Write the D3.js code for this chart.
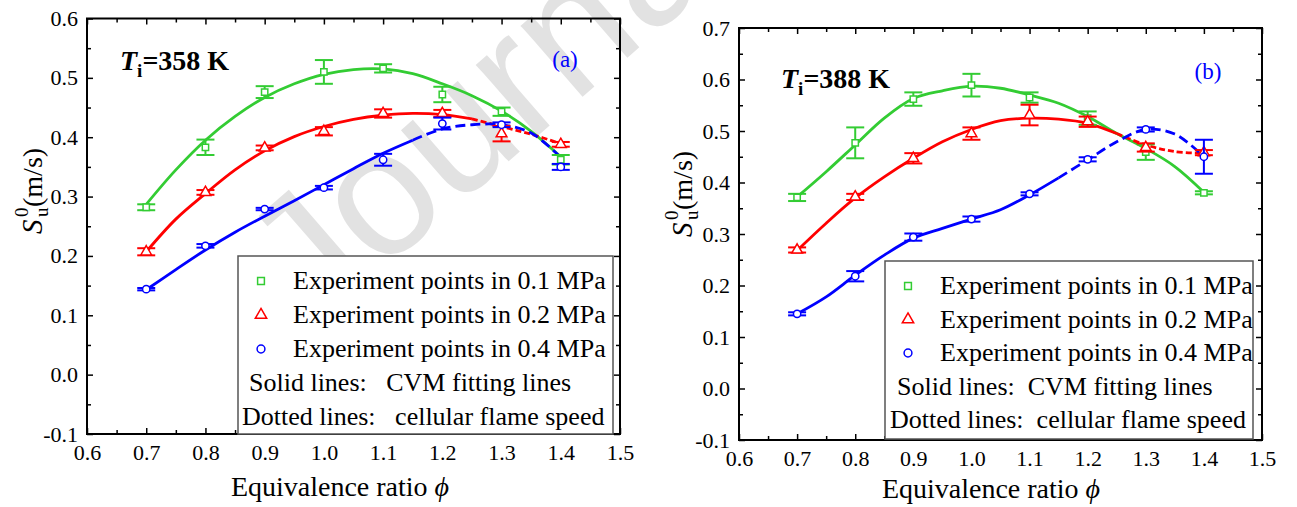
<!DOCTYPE html>
<html>
<head>
<meta charset="utf-8">
<script src="https://cdn.jsdelivr.net/npm/d3@7"></script>
<style>
  body { margin: 0; background: #fff; }
  svg text { white-space: pre; }
</style>
</head>
<body>
<svg id="chart" width="1297" height="507"></svg>
<script>
// ---- measured laminar burning velocity S_u^0 (m/s) vs equivalence ratio ----
const phi = [0.7, 0.8, 0.9, 1.0, 1.1, 1.2, 1.3, 1.4];

// Ti = 358 K
const su358_01  = [0.282, 0.383, 0.476, 0.510, 0.516, 0.472, 0.443, 0.362];
const err358_01 = [0.005, 0.013, 0.010, 0.020, 0.007, 0.013, 0.007, 0.008];
const su358_02  = [0.207, 0.307, 0.382, 0.410, 0.440, 0.440, 0.406, 0.388];
const err358_02 = [0.006, 0.004, 0.004, 0.007, 0.007, 0.006, 0.013, 0.004];
const su358_04  = [0.144, 0.217, 0.279, 0.315, 0.362, 0.423, 0.421, 0.350];
const err358_04 = [0.002, 0.003, 0.002, 0.003, 0.010, 0.010, 0.004, 0.005];

// Ti = 388 K
const su388_01  = [0.371, 0.477, 0.562, 0.589, 0.565, 0.525, 0.459, 0.380];
const err388_01 = [0.007, 0.030, 0.013, 0.022, 0.010, 0.013, 0.015, 0.003];
const su388_02  = [0.269, 0.372, 0.447, 0.495, 0.531, 0.518, 0.468, 0.458];
const err388_02 = [0.005, 0.006, 0.010, 0.012, 0.020, 0.010, 0.008, 0.005];
const su388_04  = [0.145, 0.218, 0.294, 0.329, 0.378, 0.445, 0.503, 0.450];
const err388_04 = [0.003, 0.010, 0.007, 0.005, 0.003, 0.004, 0.004, 0.033];

// ---- CVM fitting lines (solid) continued by cellular flame speed (dashed) ----
const fitPhi = [0.7, 0.75, 0.8, 0.85, 0.9, 0.95, 1.0, 1.05, 1.1, 1.15, 1.2, 1.25, 1.3, 1.35, 1.4];
const fit358_01 = [0.287, 0.345, 0.395, 0.435, 0.467, 0.490, 0.506, 0.514, 0.515, 0.507, 0.490, 0.470, 0.444, 0.410, 0.367];
const fit358_02 = [0.207, 0.262, 0.305, 0.345, 0.377, 0.401, 0.418, 0.430, 0.437, 0.440, 0.438, 0.431, 0.418, 0.405, 0.389];
const fit358_04 = [0.143, 0.177, 0.210, 0.240, 0.267, 0.293, 0.320, 0.347, 0.373, 0.395, 0.414, 0.421, 0.421, 0.407, 0.366];
const fit388_01 = [0.372, 0.421, 0.473, 0.525, 0.563, 0.578, 0.587, 0.583, 0.570, 0.554, 0.528, 0.495, 0.466, 0.431, 0.381];
const fit388_02 = [0.268, 0.321, 0.370, 0.411, 0.447, 0.479, 0.503, 0.520, 0.525, 0.523, 0.515, 0.495, 0.473, 0.460, 0.457];
const fit388_04 = [0.145, 0.178, 0.220, 0.259, 0.292, 0.311, 0.329, 0.347, 0.376, 0.409, 0.444, 0.479, 0.503, 0.494, 0.450];
// phi where each solid fitting line hands over to the dashed cellular part (null = all solid)
const split358 = [null, 1.25, 1.15];
const split388 = [null, 1.25, 1.15];

// ---- axes ----
const xTicks = [0.6, 0.7, 0.8, 0.9, 1.0, 1.1, 1.2, 1.3, 1.4, 1.5];
const yTicks358 = [-0.1, 0.0, 0.1, 0.2, 0.3, 0.4, 0.5, 0.6];
const yTicks388 = [-0.1, 0.0, 0.1, 0.2, 0.3, 0.4, 0.5, 0.6, 0.7];

const seriesNames = ["Experiment points in 0.1 MPa", "Experiment points in 0.2 MPa", "Experiment points in 0.4 MPa"];
const noteLines358 = ["Solid lines:   CVM fitting lines", "Dotted lines:   cellular flame speed"];
const noteLines388 = ["Solid lines:  CVM fitting lines", "Dotted lines:  cellular flame speed"];
const colors = ["#33cc33", "#ff0000", "#0000ff"];
const shapes = ["square", "triangle", "circle"];

const SERIF = "'Liberation Serif', 'Times New Roman', Times, serif";
const svg = d3.select("#chart");
svg.append("rect").attr("width", 1297).attr("height", 507).attr("fill", "#fff");

// faint watermark across the first panel (drawn first, under everything)
svg.append("text")
  .attr("class", "wm")
  .attr("transform", "translate(312,332) rotate(-41)")
  .style("font-family", "'Liberation Sans', Arial, sans-serif")
  .attr("font-size", 178)
  .attr("fill", "#e2e2e2")
  .text("Journal");

function markerPath(shape, size) {
  const sym = shape === "square" ? d3.symbolSquare : shape === "triangle" ? d3.symbolTriangle : d3.symbolCircle;
  return d3.symbol(sym).size(size)();
}
const markerSize = { square: 40, triangle: 50, circle: 42 };

function drawPanel(cfg) {
  const x = d3.scaleLinear().domain([0.6, 1.5]).range([cfg.left, cfg.right]);
  const y = d3.scaleLinear().domain(cfg.yDomain).range([cfg.bottom, cfg.top]);
  const g = svg.append("g");
  const fmt = d => d.toFixed(1);

  const minorX = d3.range(0, 9).map(i => 0.65 + i * 0.1);
  const minorY = d3.range(0, cfg.yTicks.length - 1).map(i => cfg.yTicks[0] + 0.05 + i * 0.1);

  function styleAxis(sel) {
    sel.attr("font-family", null).attr("font-size", null);
    sel.select(".domain").remove();
    sel.selectAll(".tick line").attr("stroke", "#000").attr("stroke-width", 1.5);
    sel.selectAll("text").attr("font-size", 22).attr("fill", "#000");
  }
  // bottom / top
  g.append("g").attr("transform", `translate(0,${cfg.bottom})`)
    .call(d3.axisBottom(x).tickValues(xTicks).tickFormat(fmt).tickSize(-6).tickPadding(10))
    .call(styleAxis);
  g.append("g").attr("transform", `translate(0,${cfg.bottom})`)
    .call(d3.axisBottom(x).tickValues(minorX).tickFormat("").tickSize(-4)).call(styleAxis);
  g.append("g").attr("transform", `translate(0,${cfg.top})`)
    .call(d3.axisTop(x).tickValues(xTicks).tickFormat("").tickSize(-6)).call(styleAxis);
  g.append("g").attr("transform", `translate(0,${cfg.top})`)
    .call(d3.axisTop(x).tickValues(minorX).tickFormat("").tickSize(-4)).call(styleAxis);
  // left / right
  g.append("g").attr("transform", `translate(${cfg.left},0)`)
    .call(d3.axisLeft(y).tickValues(cfg.yTicks).tickFormat(fmt).tickSize(-6).tickPadding(9))
    .call(styleAxis);
  g.append("g").attr("transform", `translate(${cfg.left},0)`)
    .call(d3.axisLeft(y).tickValues(minorY).tickFormat("").tickSize(-4)).call(styleAxis);
  g.append("g").attr("transform", `translate(${cfg.right},0)`)
    .call(d3.axisRight(y).tickValues(cfg.yTicks).tickFormat("").tickSize(-6)).call(styleAxis);
  g.append("g").attr("transform", `translate(${cfg.right},0)`)
    .call(d3.axisRight(y).tickValues(minorY).tickFormat("").tickSize(-4)).call(styleAxis);

  // frame
  g.append("rect")
    .attr("x", cfg.left).attr("y", cfg.top)
    .attr("width", cfg.right - cfg.left).attr("height", cfg.bottom - cfg.top)
    .attr("fill", "none").attr("stroke", "#000").attr("stroke-width", 2);

  // fitting curves
  const line = d3.line().x(d => x(d[0])).y(d => y(d[1])).curve(d3.curveCatmullRom.alpha(0.5));
  cfg.fits.forEach((fit, i) => {
    const pts = fitPhi.map((p, k) => [p, fit[k]]);
    const s = cfg.splits[i];
    const solid = s == null ? pts : pts.filter(d => d[0] <= s + 1e-9);
    const dashed = s == null ? [] : pts.filter(d => d[0] >= s - 1e-9);
    g.append("path").attr("d", line(solid)).attr("fill", "none")
      .attr("stroke", colors[i]).attr("stroke-width", 2.8);
    if (dashed.length > 1) {
      g.append("path").attr("d", line(dashed)).attr("fill", "none")
        .attr("stroke", colors[i]).attr("stroke-width", 2.8)
        .attr("stroke-dasharray", i === 1 ? "6,3" : "10,5");
    }
  });

  // experiment points with error bars
  cfg.points.forEach((ser, i) => {
    const eg = g.append("g").attr("stroke", colors[i]).attr("fill", "none");
    phi.forEach((p, k) => {
      const v = ser.v[k], e = ser.e[k];
      const cx = x(p), hw = 9;
      eg.append("line").attr("x1", cx).attr("x2", cx).attr("y1", y(v - e)).attr("y2", y(v + e)).attr("stroke-width", 2);
      eg.append("line").attr("x1", cx - hw).attr("x2", cx + hw).attr("y1", y(v - e)).attr("y2", y(v - e)).attr("stroke-width", 2);
      eg.append("line").attr("x1", cx - hw).attr("x2", cx + hw).attr("y1", y(v + e)).attr("y2", y(v + e)).attr("stroke-width", 2);
      eg.append("path").attr("d", markerPath(shapes[i], markerSize[shapes[i]]))
        .attr("transform", `translate(${cx},${y(v)})`).attr("fill", "#fff").attr("stroke-width", 1.5);
    });
  });

  // legend
  const L = cfg.legend;
  g.append("rect").attr("x", L.x).attr("y", L.y).attr("width", L.w).attr("height", L.h)
    .attr("fill", "#fff").attr("stroke", "#555").attr("stroke-width", 1.5);
  seriesNames.forEach((name, i) => {
    const ry = L.y + L.row0 + i * L.dy;
    g.append("path").attr("d", markerPath(shapes[i], markerSize[shapes[i]] + 6))
      .attr("transform", `translate(${L.mx},${ry - 8})`)
      .attr("fill", "#fff").attr("stroke", colors[i]).attr("stroke-width", 1.5);
    g.append("text").attr("x", L.tx).attr("y", ry).attr("font-size", 26).text(name);
  });
  cfg.notes.forEach((t, j) => {
    g.append("text").attr("x", L.nx[j]).attr("y", L.y + L.row0 + (3 + j) * L.dy)
      .attr("font-size", 26).text(t);
  });

  // temperature label
  const tl = g.append("text").attr("x", cfg.title.x).attr("y", cfg.title.y)
    .attr("font-size", 28).attr("font-weight", "bold");
  tl.append("tspan").attr("font-style", "italic").text("T");
  tl.append("tspan").attr("font-size", 19).attr("dy", 7).text("i");
  tl.append("tspan").attr("dy", -7).text(cfg.title.text);

  g.append("text").attr("x", cfg.tag.x).attr("y", cfg.tag.y).attr("font-size", 23)
    .attr("fill", "#0000ff").attr("text-anchor", "middle").text(cfg.tag.text);

  // axis titles
  const xl = g.append("text").attr("x", cfg.xTitle.x).attr("y", cfg.xTitle.y)
    .attr("font-size", 28).attr("text-anchor", "middle");
  xl.append("tspan").text("Equivalence ratio ");
  xl.append("tspan").attr("font-style", "italic").text("\u03D5");

  const yl = g.append("g").attr("transform", `translate(${cfg.yTitle.x},${cfg.yTitle.y}) rotate(-90)`);
  yl.append("text").attr("x", -44).attr("y", 0).attr("font-size", 29).attr("font-style", "italic").text("S");
  yl.append("text").attr("x", -27).attr("y", 6).attr("font-size", 19).text("u");
  yl.append("text").attr("x", -27).attr("y", -14).attr("font-size", 19).text("0");
  yl.append("text").attr("x", -17).attr("y", 0).attr("font-size", 28).text("(m/s)");
}

drawPanel({
  left: 87, right: 620, top: 18.5, bottom: 434, yDomain: [-0.1, 0.6], yTicks: yTicks358,
  fits: [fit358_01, fit358_02, fit358_04], splits: split358,
  points: [{ v: su358_01, e: err358_01 }, { v: su358_02, e: err358_02 }, { v: su358_04, e: err358_04 }],
  legend: { x: 238, y: 256, w: 375, h: 178, row0: 33, dy: 34, mx: 261, tx: 293, nx: [249, 242] },
  notes: noteLines358,
  title: { x: 120, y: 70, text: "=358 K" },
  tag: { x: 565, y: 67, text: "(a)" },
  xTitle: { x: 340, y: 496 },
  yTitle: { x: 42, y: 190 }
});

drawPanel({
  left: 739, right: 1262, top: 28, bottom: 440, yDomain: [-0.1, 0.7], yTicks: yTicks388,
  fits: [fit388_01, fit388_02, fit388_04], splits: split388,
  points: [{ v: su388_01, e: err388_01 }, { v: su388_02, e: err388_02 }, { v: su388_04, e: err388_04 }],
  legend: { x: 885, y: 261, w: 368, h: 178, row0: 33, dy: 33.5, mx: 908, tx: 940, nx: [897, 890] },
  notes: noteLines388,
  title: { x: 781, y: 88, text: "=388 K" },
  tag: { x: 1208, y: 79, text: "(b)" },
  xTitle: { x: 991, y: 498 },
  yTitle: { x: 692, y: 193 }
});

// serif face for every label except the watermark
svg.selectAll("text:not(.wm)").style("font-family", SERIF);
</script>
</body>
</html>
